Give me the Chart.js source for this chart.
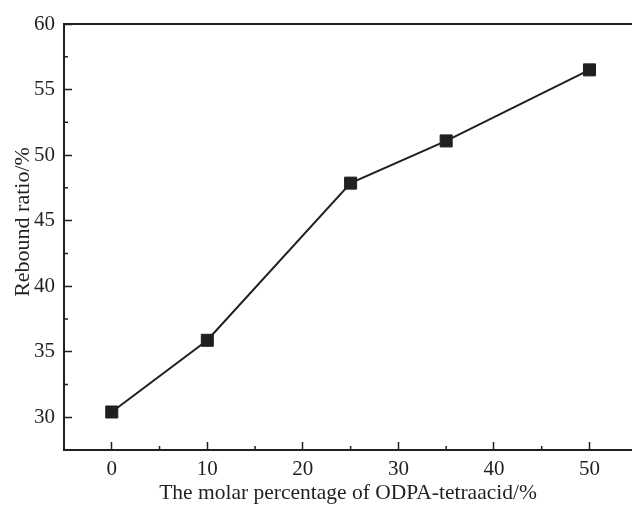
<!DOCTYPE html>
<html lang="en">
<head>
  <meta charset="UTF-8">
  <title>Rebound ratio</title>
  <script src="https://cdn.jsdelivr.net/npm/chart.js"></script>
  <style>
    html, body {
      margin: 0;
      padding: 0;
      background: #ffffff;
      overflow: hidden;
    }
    .chart-container {
      width: 632px;
      height: 505px;
    }
  </style>
</head>
<body>

  <div class="chart-container">
    <canvas id="reboundChart"></canvas>
  </div>

  <script>
    // values
    const molarPercent = [0, 10, 25, 35, 50];
    const reboundRatio = [30.4, 35.87, 47.86, 51.08, 56.5];
    const xTickValues = [0, 10, 20, 30, 40, 50];
    const yTickValues = [30, 35, 40, 45, 50, 55, 60];
    const xMinorTicks = [5, 15, 25, 35, 45];
    const yMinorTicks = [32.5, 37.5, 42.5, 47.5, 52.5, 57.5];
    const yTitle = 'Rebound ratio/%';

    const ink = '#231f20';
    const serif = "'Liberation Serif', 'Times New Roman', serif";

    // Chart.js has no minor ticks, so draw the short ones here
    const minorTicks = {
      id: 'minorTicks',
      afterDraw(chart) {
        const c = chart.ctx;
        const xs = chart.scales.x;
        const ys = chart.scales.y;
        const area = chart.chartArea;
        c.save();
        c.strokeStyle = ink;
        c.lineWidth = 1.5;
        c.beginPath();
        xMinorTicks.forEach(v => {
          const px = xs.getPixelForValue(v);
          c.moveTo(px, area.bottom);
          c.lineTo(px, area.bottom - 4);
        });
        yMinorTicks.forEach(v => {
          const py = ys.getPixelForValue(v);
          c.moveTo(area.left, py);
          c.lineTo(area.left + 4, py);
        });
        c.stroke();
        c.restore();
      }
    };

    // y title sits a bit above the middle of the axis in the original
    const yTitlePlugin = {
      id: 'yTitle',
      afterDraw(chart) {
        const c = chart.ctx;
        const area = chart.chartArea;
        c.save();
        c.translate(23, (area.top + area.bottom) / 2 - 15);
        c.rotate(-Math.PI / 2);
        c.fillStyle = ink;
        c.font = '22px ' + serif;
        c.textAlign = 'center';
        c.textBaseline = 'middle';
        c.fillText(yTitle, 0, 0);
        c.restore();
      }
    };

    const ctx = document.getElementById('reboundChart').getContext('2d');
    const reboundChart = new Chart(ctx, {
      type: 'line',
      data: {
        datasets: [{
          data: molarPercent.map((x, i) => ({ x: x, y: reboundRatio[i] })),
          borderColor: ink,
          borderWidth: 2,
          backgroundColor: ink,
          pointStyle: 'rect',
          pointRadius: 8.5,
          pointBorderWidth: 1,
          pointBorderColor: ink,
          pointBackgroundColor: ink,
          tension: 0,
          fill: false
        }]
      },
      options: {
        responsive: true,
        maintainAspectRatio: false,
        animation: false,
        layout: { autoPadding: false, padding: { top: 24, right: 0, bottom: 0, left: 0 } },
        plugins: {
          legend: { display: false },
          tooltip: { enabled: false }
        },
        scales: {
          x: {
            type: 'linear',
            position: 'bottom',
            min: -5,
            max: 54.45,
            afterBuildTicks: s => { s.ticks = xTickValues.map(v => ({ value: v })); },
            afterFit: s => { s.height = 55; s.paddingLeft = 0; s.paddingRight = 0; },
            grid: {
              drawOnChartArea: false,
              drawTicks: true,
              tickLength: -8,
              tickWidth: 1.5,
              tickColor: ink
            },
            border: { display: true, color: ink, width: 2 },
            ticks: {
              color: ink,
              padding: 15,
              maxRotation: 0,
              font: { family: serif, size: 21 }
            },
            title: {
              display: true,
              text: 'The molar percentage of ODPA-tetraacid/%',
              color: ink,
              padding: { top: 0, bottom: -1 },
              font: { family: serif, size: 21.5 }
            }
          },
          x2: {
            type: 'linear',
            position: 'top',
            min: -5,
            max: 54.45,
            afterFit: s => { s.height = 0; },
            grid: { display: false, drawTicks: false },
            border: { display: true, color: ink, width: 2 },
            ticks: { display: false }
          },
          y: {
            type: 'linear',
            min: 27.5,
            max: 60,
            afterBuildTicks: s => { s.ticks = yTickValues.map(v => ({ value: v })); },
            afterFit: s => { s.width = 64; s.paddingTop = 0; s.paddingBottom = 0; },
            grid: {
              drawOnChartArea: false,
              drawTicks: true,
              tickLength: -8,
              tickWidth: 1.5,
              tickColor: ink
            },
            border: { display: true, color: ink, width: 2 },
            ticks: {
              color: ink,
              padding: 17,
              font: { family: serif, size: 21 }
            },
            title: { display: false }
          }
        }
      },
      plugins: [minorTicks, yTitlePlugin]
    });
  </script>

</body>
</html>
